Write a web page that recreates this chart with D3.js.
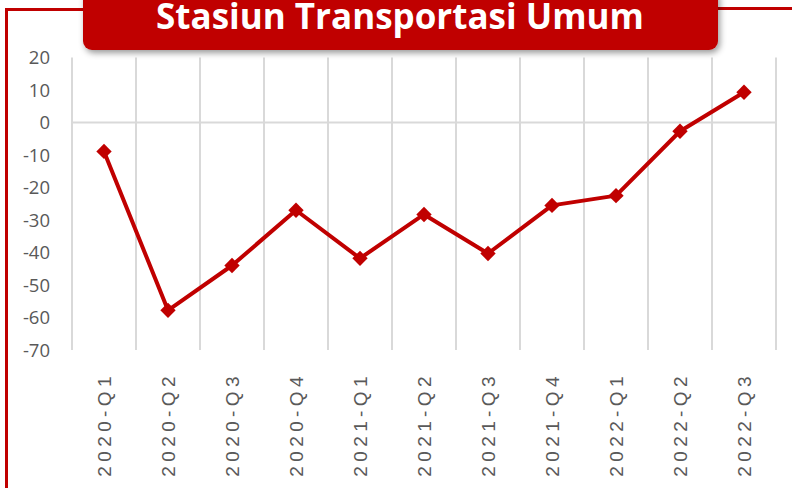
<!DOCTYPE html>
<html>
<head>
<meta charset="utf-8">
<script src="https://cdn.jsdelivr.net/npm/d3@7"></script>
<style>
  body { margin: 0; background: #fff; }
  svg { display: block; }
</style>
</head>
<body>
<script>
const WIDTH = 792
const HEIGHT = 488
const RED = '#C00000'

const categories = ['2020-Q1', '2020-Q2', '2020-Q3', '2020-Q4', '2021-Q1', '2021-Q2',
  '2021-Q3', '2021-Q4', '2022-Q1', '2022-Q2', '2022-Q3']
const values = [-8.9, -57.8, -44, -27, -41.8, -28.3, -40.3, -25.5, -22.5, -2.7, 9.3]
const yTicks = [20, 10, 0, -10, -20, -30, -40, -50, -60, -70]
const title = 'Stasiun Transportasi Umum'

const svg = d3.select('body')
  .append('svg')
  .attr('width', WIDTH)
  .attr('height', HEIGHT)

const defs = svg.append('defs')
const shadow = defs.append('filter').attr('id', 'shadow')
  .attr('x', '-10%').attr('y', '-30%').attr('width', '120%').attr('height', '170%')
shadow.append('feDropShadow')
  .attr('dx', 2).attr('dy', 3).attr('stdDeviation', 3)
  .attr('flood-color', '#000').attr('flood-opacity', 0.4)

// cadre rouge
svg.append('path')
  .attr('d', `M6.5,${HEIGHT} V9.5 H100 M700,8.5 H${WIDTH}`)
  .attr('fill', 'none')
  .attr('stroke', RED)
  .attr('stroke-width', 3)

const x = d3.scaleBand()
  .domain(categories)
  .range([72, 776])

const y = d3.scaleLinear()
  .domain([-70, 20])
  .range([350, 57.5])

// grille verticale
svg.append('g')
  .selectAll('line')
  .data(d3.range(categories.length + 1))
  .enter()
  .append('line')
  .attr('x1', i => 72 + i * x.step())
  .attr('x2', i => 72 + i * x.step())
  .attr('y1', y(20))
  .attr('y2', y(-70))
  .attr('stroke', '#d9d9d9')
  .attr('stroke-width', 2)

// ligne du zéro
svg.append('line')
  .attr('x1', 72).attr('x2', 776)
  .attr('y1', y(0)).attr('y2', y(0))
  .attr('stroke', '#d9d9d9')
  .attr('stroke-width', 2)

// axe y
svg.append('g')
  .selectAll('text')
  .data(yTicks)
  .enter()
  .append('text')
  .attr('x', 50)
  .attr('y', d => y(d))
  .attr('dy', '0.36em')
  .attr('text-anchor', 'end')
  .attr('font-family', 'Open Sans, sans-serif')
  .attr('font-size', 18.5)
  .attr('fill', '#595959')
  .text(d => d)

// axe x
svg.append('g')
  .selectAll('text')
  .data(categories)
  .enter()
  .append('text')
  .attr('transform', d => `translate(${x(d) + x.bandwidth() / 2 + 7},372) rotate(-90)`)
  .attr('text-anchor', 'end')
  .attr('font-family', 'Liberation Sans, Arial, sans-serif')
  .attr('font-size', 19)
  .attr('letter-spacing', 4.4)
  .attr('fill', '#595959')
  .text(d => d)

const px = d => x(d) + x.bandwidth() / 2

const line = d3.line()
  .x((d, i) => px(categories[i]))
  .y(d => y(d))

svg.append('path')
  .datum(values)
  .attr('d', line)
  .attr('fill', 'none')
  .attr('stroke', RED)
  .attr('stroke-width', 4)
  .attr('stroke-linejoin', 'round')

svg.append('g')
  .selectAll('path')
  .data(values)
  .enter()
  .append('path')
  .attr('d', d3.symbol().type(d3.symbolDiamond2).size(150))
  .attr('transform', (d, i) => `translate(${px(categories[i])},${y(d)})`)
  .attr('fill', RED)

// titre
const tg = svg.append('g')
tg.append('rect')
  .attr('x', 83).attr('y', -12)
  .attr('width', 635).attr('height', 62)
  .attr('rx', 9)
  .attr('fill', RED)
  .attr('filter', 'url(#shadow)')
tg.append('text')
  .attr('x', 400).attr('y', 29)
  .attr('text-anchor', 'middle')
  .attr('font-family', 'Open Sans, sans-serif')
  .attr('font-weight', 'bold')
  .attr('font-size', 35)
  .attr('fill', '#fff')
  .text(title)
</script>
</body>
</html>
